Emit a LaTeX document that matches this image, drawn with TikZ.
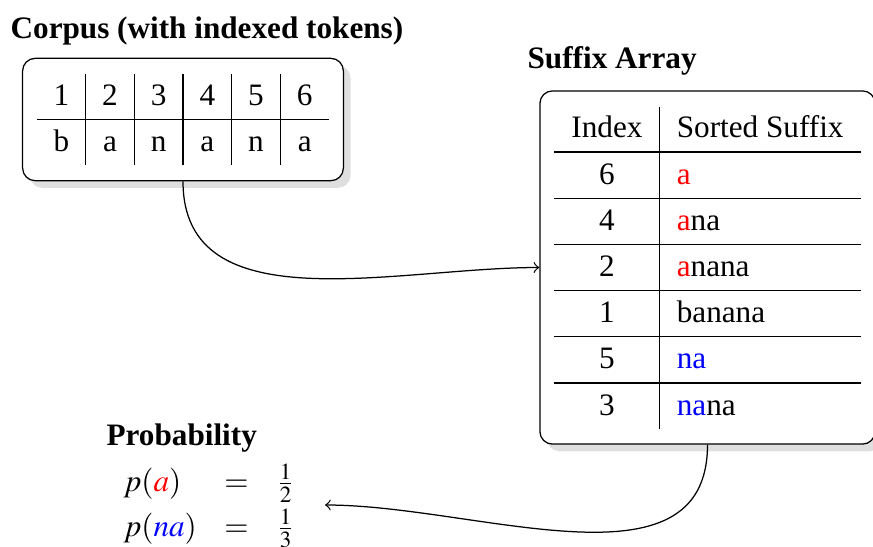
\documentclass[tikz,border=0pt]{standalone}
\usepackage{mathptmx}
\usepackage{fontspec}
\setmainfont{Liberation Serif}
\usetikzlibrary{shadows}
\renewcommand{\arraystretch}{1.2}

\begin{document}
\begin{tikzpicture}[x=0.3205pt, y=-0.3205pt,
	box/.style={draw, rounded corners, fill=white, drop shadow={opacity=0.25}, inner xsep=4.6pt, inner ysep=5pt},
	heading/.style={font=\bfseries, anchor=base west, inner sep=0pt}]
\useasboundingbox (0,0) rectangle (873,546);
% corpus
\node[heading] (corpustitle) at (10,38) {Corpus (with indexed tokens)};
\node[box] (corpus) at (183,119.5) {\setlength{\tabcolsep}{5.3pt}%
	\begin{tabular}{c|c|c|c|c|c}
	1 & 2 & 3 & 4 & 5 & 6 \\ \hline
	b & a & n & a & n & a
	\end{tabular}};
% suffix array
\node[heading] (satitle) at (527,68) {Suffix Array};
\node[box] (sa) at (707.5,267.5) {\setlength{\tabcolsep}{5.5pt}%
	\begin{tabular}{c|l}
	Index & Sorted Suffix \\ \hline
	6 & {\color{red}a} \\ \hline
	4 & {\color{red}a}na \\ \hline
	2 & {\color{red}a}nana \\ \hline
	1 & banana \\ \hline
	5 & {\color{blue}na} \\ \hline
	3 & {\color{blue}na}na
	\end{tabular}};
% probability
\node[heading] (probtitle) at (106,445) {Probability};
\node[anchor=east, inner xsep=5pt] (prob) at (325,505) {\setlength{\arraycolsep}{4.4pt}%
	$\begin{array}{lcl}
	p({\color{red}a}) & = & \frac{1}{2} \\
	p({\color{blue}na}) & = & \frac{1}{3}
	\end{array}$};
\draw[->] (corpus.south) to[out=-90, in=180] (sa.west);
\draw[->] (sa.south) to[out=-90, in=0] (prob.east);
\end{tikzpicture}
\end{document}
